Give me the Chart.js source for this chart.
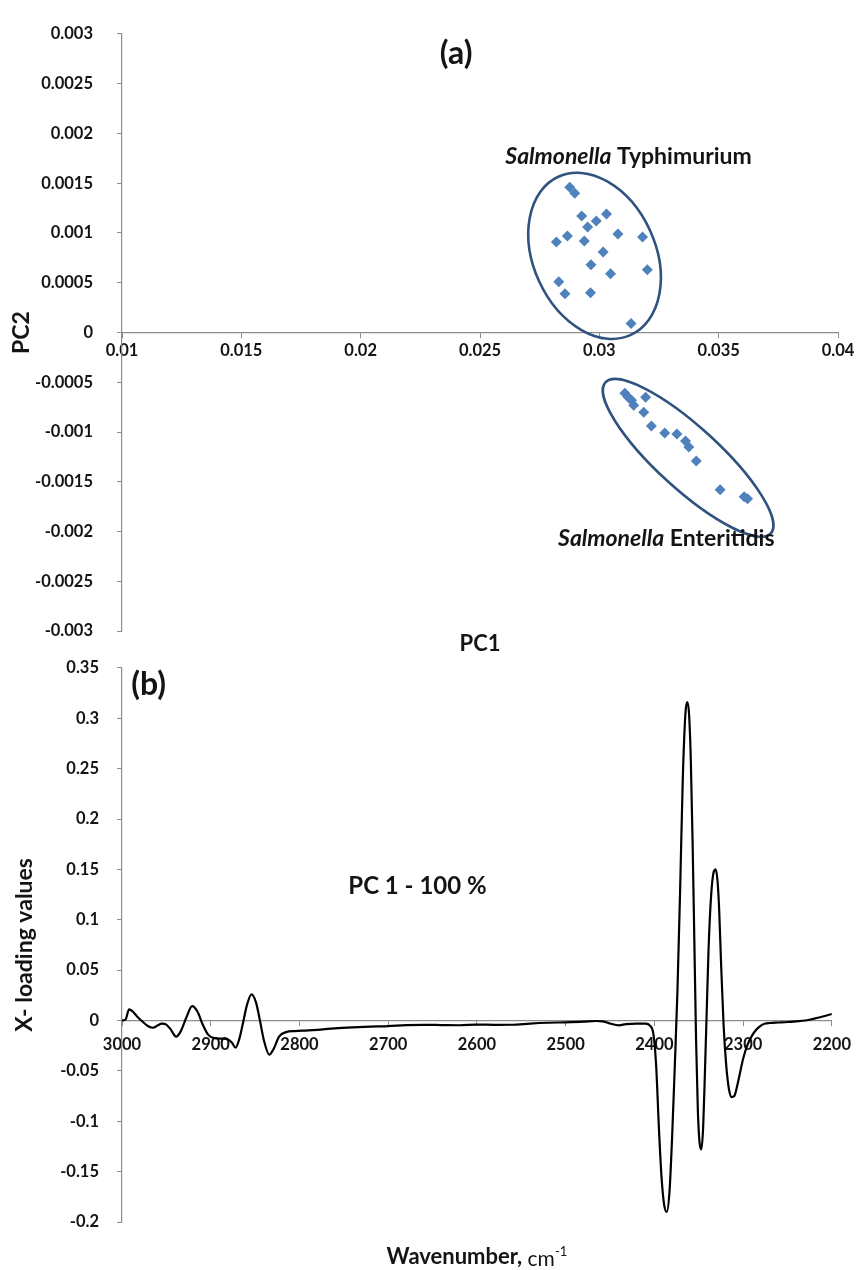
<!DOCTYPE html>
<html>
<head>
<meta charset="utf-8">
<script src="https://cdn.jsdelivr.net/npm/chart.js@4.4.1/dist/chart.umd.min.js"></script>
<style>
  html, body { margin: 0; padding: 0; background: #fff; }
  #wrap { position: relative; width: 860px; height: 1270px; }
  canvas { position: absolute; left: 0; }
  #scores_plot { top: 0; }
  #loadings_plot { top: 640px; }
</style>
</head>
<body>
<div id="wrap">
  <canvas id="scores_plot" width="860" height="665"></canvas>
  <canvas id="loadings_plot" width="860" height="630"></canvas>
</div>
<script>
// (a) PCA scores
const typhiPC1 = [0.02876, 0.02897, 0.02926, 0.03030, 0.02987, 0.02951, 0.03078, 0.03181, 0.02866, 0.02820,
                  0.02937, 0.03016, 0.02965, 0.03201, 0.03047, 0.02830, 0.02856, 0.02963, 0.03133];
const typhiPC2 = [0.00146, 0.00140, 0.00117, 0.00119, 0.00112, 0.00106, 0.00099, 0.00096, 0.00097, 0.00091,
                  0.00092, 0.00081, 0.00068, 0.00063, 0.00059, 0.00051, 0.00039, 0.00040, 0.00009];
const enterPC1 = [0.03107, 0.03121, 0.03135, 0.03194, 0.03144, 0.03186, 0.03218, 0.03274, 0.03325, 0.03361,
                  0.03375, 0.03406, 0.03506, 0.03607, 0.03621];
const enterPC2 = [-0.00061, -0.00065, -0.00068, -0.00065, -0.00073, -0.00080, -0.00094, -0.00101, -0.00102, -0.00109,
                  -0.00115, -0.00129, -0.00158, -0.00165, -0.00167];
const scoreXTicks = [0.01, 0.015, 0.02, 0.025, 0.03, 0.035, 0.04];
const scoreYTicks = [-0.003, -0.0025, -0.002, -0.0015, -0.001, -0.0005, 0, 0.0005, 0.001, 0.0015, 0.002, 0.0025, 0.003];

// (b) PC1 loadings
const waveNum = [3000, 2996, 2992, 2988, 2983, 2977, 2970, 2965, 2960, 2955, 2950, 2945, 2939, 2934, 2927, 2921,
                 2915, 2909, 2903, 2896, 2888, 2880, 2876, 2872, 2868, 2864, 2859, 2854, 2849, 2845, 2840, 2834,
                 2829, 2823, 2815, 2805, 2790, 2780, 2760, 2740, 2720, 2700, 2680, 2660, 2640, 2620, 2600, 2580,
                 2560, 2540, 2520, 2500, 2480, 2466, 2458, 2450, 2440, 2432, 2420, 2410, 2405, 2401, 2398, 2395,
                 2392, 2389, 2386, 2383, 2380, 2377, 2374, 2371, 2368, 2365, 2363, 2361, 2359, 2357, 2355, 2353,
                 2351, 2349, 2347, 2345, 2343, 2341, 2339, 2336, 2333, 2331, 2329, 2327, 2325, 2322, 2319, 2316,
                 2313, 2310, 2307, 2304, 2300, 2295, 2290, 2285, 2280, 2275, 2270, 2260, 2250, 2240, 2230, 2220,
                 2212, 2206, 2200];
const loading = [0, 0.001, 0.011, 0.009, 0.004, -0.001, -0.006, -0.0072, -0.005, -0.003, -0.004, -0.009, -0.016, -0.011, 0.004, 0.0143,
                 0.009, -0.004, -0.014, -0.0175, -0.018, -0.019, -0.022, -0.027, -0.019, -0.004, 0.016, 0.026, 0.018, 0.002, -0.02, -0.034,
                 -0.028, -0.016, -0.0115, -0.0105, -0.0098, -0.0092, -0.0078, -0.0068, -0.006, -0.0055, -0.0045, -0.0043, -0.0045, -0.0047, -0.004, -0.0043,
                 -0.0042, -0.003, -0.0022, -0.0018, -0.0012, -0.0005, -0.0008, -0.003, -0.0048, -0.0035, -0.003, -0.003, -0.005, -0.014, -0.045, -0.105,
                 -0.155, -0.183, -0.19, -0.17, -0.115, -0.045, 0.03, 0.13, 0.24, 0.305, 0.316, 0.305, 0.26, 0.18, 0.08, -0.02,
                 -0.09, -0.122, -0.128, -0.105, -0.05, 0.01, 0.07, 0.125, 0.148, 0.15, 0.14, 0.11, 0.06, -0.005, -0.045, -0.068,
                 -0.076, -0.075, -0.066, -0.054, -0.038, -0.024, -0.015, -0.009, -0.005, -0.003, -0.0025, -0.002, -0.0015, -0.0008, 0, 0.0018,
                 0.0035, 0.005, 0.0065];
const waveTicks = [3000, 2900, 2800, 2700, 2600, 2500, 2400, 2300, 2200];
const loadTicks = [-0.2, -0.15, -0.1, -0.05, 0, 0.05, 0.1, 0.15, 0.2, 0.25, 0.3, 0.35];

const FONT = 'Lato';
const axisGrey = '#8c8c8c';
const textCol = '#141414';

// draws the cluster rings and the free text of each panel
const notesPlugin = {
  id: 'notes',
  afterDatasetsDraw(chart, args, opts) {
    const ctx = chart.ctx;
    const xs = chart.scales.x, ys = chart.scales.y;
    (opts.rings || []).forEach(r => {
      ctx.save();
      ctx.beginPath();
      ctx.ellipse(xs.getPixelForValue(r.x), ys.getPixelForValue(r.y), r.rx, r.ry, r.rot, 0, 2 * Math.PI);
      ctx.lineWidth = 2.6;
      ctx.strokeStyle = '#30527f';
      ctx.stroke();
      ctx.restore();
    });
    (opts.notes || []).forEach(n => {
      ctx.save();
      const area = chart.chartArea;
      const px = n.x !== undefined ? xs.getPixelForValue(n.x) : (area.left + area.right) / 2;
      const py = n.y !== undefined ? ys.getPixelForValue(n.y) : area.bottom + n.below;
      let w = 0;
      n.parts.forEach(p => { ctx.font = p.font; w += ctx.measureText(p.text).width; });
      let cx = n.align === 'left' ? px : px - w / 2;
      ctx.fillStyle = textCol;
      ctx.textBaseline = 'middle';
      ctx.textAlign = 'left';
      n.parts.forEach(p => {
        ctx.font = p.font;
        ctx.fillText(p.text, cx, py + (p.dy || 0));
        cx += ctx.measureText(p.text).width;
      });
      ctx.restore();
    });
  }
};

function axisCommon(tickList, pad) {
  return {
    type: 'linear',
    afterBuildTicks: s => { s.ticks = tickList.map(v => ({value: v})); },
    grid: {drawOnChartArea: false, drawTicks: true, tickLength: 5, color: axisGrey},
    border: {color: axisGrey, width: 1.2},
    ticks: {
      autoSkip: false, maxRotation: 0, padding: pad, color: textCol,
      font: {family: FONT, size: 16.5, weight: 'bold'},
      callback: v => String(v)
    }
  };
}

function plotScores() {
  const xAxis = axisCommon(scoreXTicks, 3);
  Object.assign(xAxis, {min: 0.01, max: 0.04, position: {y: 0}, afterFit: s => { s.height = 0; }});
  const yAxis = axisCommon(scoreYTicks, 24);
  Object.assign(yAxis, {
    min: -0.003, max: 0.003, afterFit: s => { s.width = 122; },
    title: {display: true, text: 'PC2', color: textCol, font: {family: FONT, size: 23, weight: 'bold'}, padding: {top: 8, bottom: 0}}
  });
  const marker = {pointStyle: 'rectRot', pointRadius: 5.5, backgroundColor: '#4f81bd', borderColor: '#4f81bd', borderWidth: 0};

  new Chart(document.getElementById('scores_plot'), {
    type: 'scatter',
    data: {
      datasets: [
        Object.assign({label: 'Salmonella Typhimurium', data: typhiPC1.map((x, i) => ({x: x, y: typhiPC2[i]}))}, marker),
        Object.assign({label: 'Salmonella Enteritidis', data: enterPC1.map((x, i) => ({x: x, y: enterPC2[i]}))}, marker)
      ]
    },
    options: {
      responsive: false,
      animation: false,
      devicePixelRatio: 1,
      layout: {autoPadding: false, padding: {top: 22, right: 22, bottom: 27, left: 0}},
      plugins: {
        legend: {display: false},
        tooltip: {enabled: false},
        notes: {
          rings: [
            {x: 0.0298, y: 0.00077, rx: 61, ry: 87, rot: -0.43},
            {x: 0.03372, y: -0.00126, rx: 112, ry: 31, rot: 0.74}
          ],
          notes: [
            {x: 0.0240, y: 0.0028, parts: [{text: '(a)', font: 'bold 32px ' + FONT}]},
            {x: 0.02606, y: 0.00177, align: 'left', parts: [
              {text: 'Salmonella', font: 'italic bold 23px ' + FONT},
              {text: ' Typhimurium', font: 'bold 23px ' + FONT}]},
            {x: 0.02827, y: -0.00207, align: 'left', parts: [
              {text: 'Salmonella', font: 'italic bold 23px ' + FONT},
              {text: ' Enteritidis', font: 'bold 23px ' + FONT}]},
            {below: 13, parts: [{text: 'PC1', font: 'bold 22px ' + FONT}]}
          ]
        }
      },
      scales: {x: xAxis, y: yAxis}
    },
    plugins: [notesPlugin]
  });
}

function plotLoadings() {
  const xAxis = axisCommon(waveTicks, 9);
  Object.assign(xAxis, {min: 2200, max: 3000, reverse: true, position: {y: 0}, afterFit: s => { s.height = 0; }});
  const yAxis = axisCommon(loadTicks, 18);
  Object.assign(yAxis, {
    min: -0.2, max: 0.35, afterFit: s => { s.width = 122; },
    title: {display: true, text: 'X- loading values', color: textCol, font: {family: FONT, size: 23, weight: 'bold'}, padding: {top: 11, bottom: 0}}
  });

  new Chart(document.getElementById('loadings_plot'), {
    type: 'line',
    data: {
      datasets: [{
        label: 'PC 1',
        data: waveNum.map((x, i) => ({x: x, y: loading[i]})),
        borderColor: '#000',
        borderWidth: 2.2,
        pointRadius: 0,
        fill: false,
        cubicInterpolationMode: 'monotone'
      }]
    },
    options: {
      responsive: false,
      animation: false,
      devicePixelRatio: 1,
      layout: {autoPadding: false, padding: {top: 22, right: 22, bottom: 48, left: 0}},
      plugins: {
        legend: {display: false},
        tooltip: {enabled: false},
        notes: {
          notes: [
            {x: 2970, y: 0.333, parts: [{text: '(b)', font: 'bold 32px ' + FONT}]},
            {x: 2667, y: 0.133, parts: [{text: 'PC 1 - 100 %', font: 'bold 24px ' + FONT}]},
            {below: 35, parts: [
              {text: 'Wavenumber, ', font: 'bold 22px ' + FONT},
              {text: 'cm', font: '21px ' + FONT, dy: 2},
              {text: '-1', font: '13px ' + FONT, dy: -5}]}
          ]
        }
      },
      scales: {x: xAxis, y: yAxis}
    },
    plugins: [notesPlugin]
  });
}

function init() {
  plotScores();
  plotLoadings();
}
window.onload = init;
</script>
</body>
</html>
